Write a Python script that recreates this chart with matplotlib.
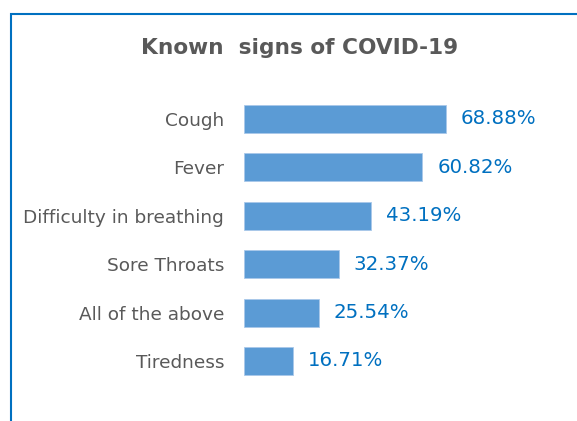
import matplotlib
matplotlib.use('Agg')
import matplotlib.pyplot as plt
from matplotlib.patches import Rectangle

# data
signs  = ['Cough', 'Fever', 'Difficulty in breathing', 'Sore Throats', 'All of the above', 'Tiredness']
shares = [68.88, 60.82, 43.19, 32.37, 25.54, 16.71]

W, H = 577, 421
fig = plt.figure(figsize=(W/100, H/100), dpi=100)

# blue frame, open to the right and bottom like the crop
fig.patches.append(Rectangle((11/W, -0.1), 1.2, (H-13.5)/H + 0.1, transform=fig.transFigure,
                             fill=False, edgecolor='#0070C0', linewidth=1.5))

ax = fig.add_axes([244/W, (H-385.2)/H, 293.3/W, 290.4/H])
ypos = list(range(len(signs)))
bars = ax.barh(ypos, shares, height=0.58, color='#5B9BD5', edgecolor='#A9C8EA', linewidth=0.6)
ax.set_xlim(0, 100)
ax.set_ylim(len(signs) - 0.5, -0.5)

ax.set_yticks(ypos)
ax.set_yticklabels(signs, fontsize=13.3, color='#595959')
ax.tick_params(axis='y', length=0, pad=14.4)
ax.set_xticks([])
for s in ax.spines.values():
    s.set_visible(False)

for b, v in zip(bars, shares):
    ax.text(b.get_width() + 5.1, b.get_y() + b.get_height()/2, '{:.2f}%'.format(v),
            va='center', ha='left', fontsize=14.2, color='#0070C0')

fig.text(300/W, 1 - 48/H, 'Known  signs of COVID-19', ha='center', va='center',
         fontsize=15.6, fontweight='bold', color='#595959')

fig.savefig('out.png', dpi=100)
